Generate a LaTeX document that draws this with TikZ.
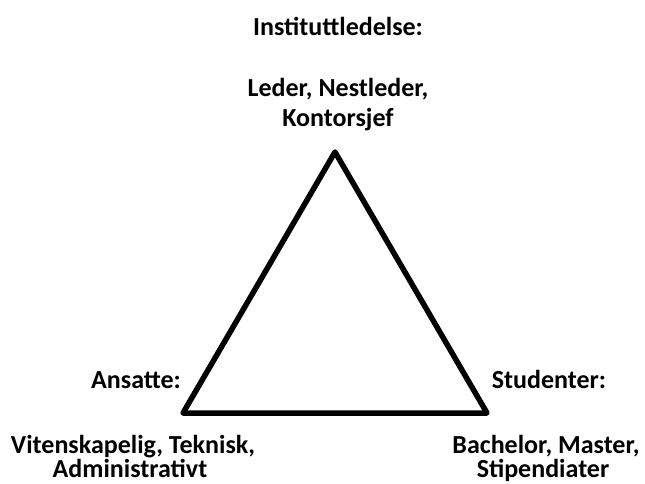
\documentclass[tikz,border=0pt]{standalone}
\usepackage{fontspec}
\setmainfont{Carlito}
\begin{document}
\begin{tikzpicture}[x=1pt,y=-1pt,
  lbl/.style={font=\bfseries\fontsize{26}{30}\selectfont, anchor=base, inner sep=0pt},
  tri/.style={line width=5.5pt, line join=round}]
\useasboundingbox (0,0) rectangle (645,484);
\coordinate (A) at (335,152);
\coordinate (B) at (183,413);
\coordinate (C) at (487,413);
\draw[tri] (A) -- (B) -- (C) -- cycle;
\node[lbl] (inst) at (338,36) {Instituttledelse:};
\node[lbl] (led1) at (338,97) {Leder, Nestleder,};
\node[lbl] (led2) at (338,127) {Kontorsjef};
\node[lbl] (ans) at (136,388) {Ansatte:};
\node[lbl] (stu) at (549,388) {Studenter:};
\node[lbl] (vit1) at (133,453) {Vitenskapelig, Teknisk,};
\node[lbl] (vit2) at (130,477) {Administrativt};
\node[lbl] (bac1) at (546,453) {Bachelor, Master,};
\node[lbl] (bac2) at (543,477) {Stipendiater};
\end{tikzpicture}
\end{document}
